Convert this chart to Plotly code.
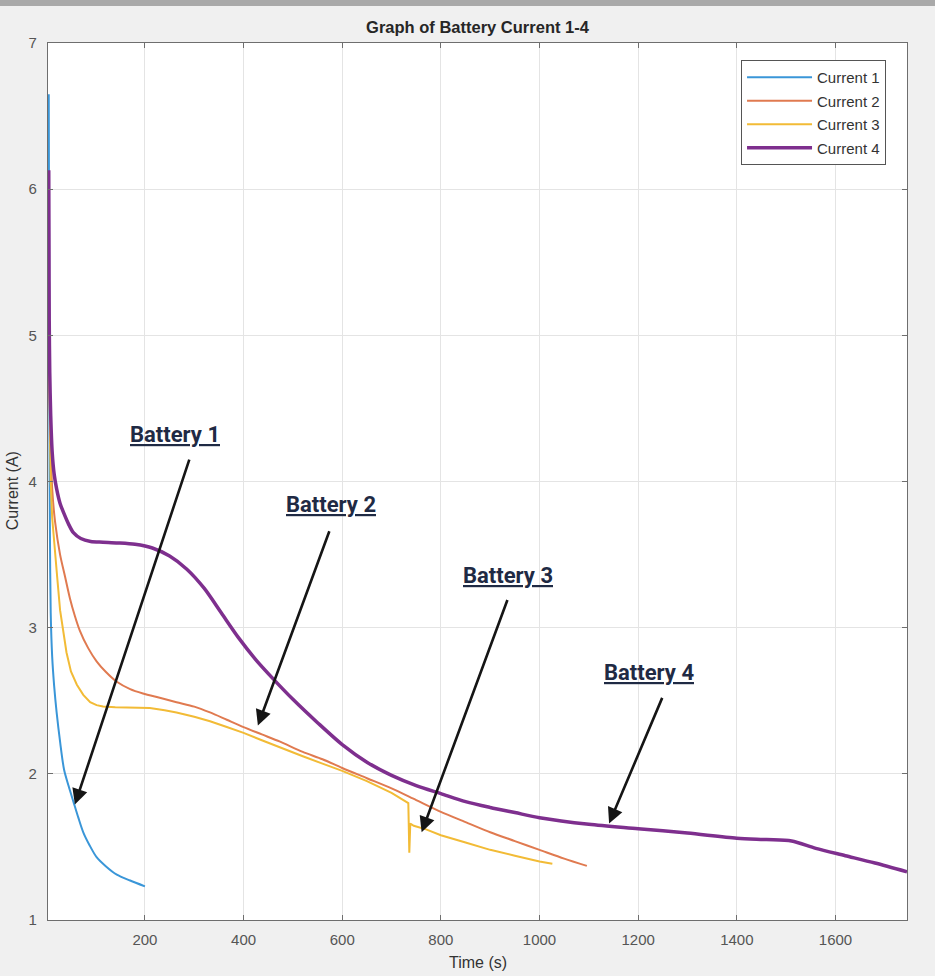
import plotly.graph_objects as go

# ---------------- data ----------------
t1 = [5, 5.5, 6, 6.5, 7.5, 9, 12, 16, 21, 28, 36, 45, 55, 65, 75, 88, 102, 120, 143, 170, 200]
i1 = [6.65, 5.9, 5.0, 4.3, 3.6, 3.1, 2.8, 2.6, 2.42, 2.22, 2.03, 1.92, 1.81, 1.70, 1.60, 1.51, 1.43, 1.37, 1.31, 1.27, 1.23]

t2 = [5, 7, 9, 12, 18, 28, 38, 48, 58, 68, 85, 102, 120, 143, 170, 196, 230, 264, 300, 332,
      366, 400, 437, 474, 520, 560, 600, 650, 700, 750, 800, 850, 900, 950, 1000, 1050, 1096]
i2 = [5.1, 4.6, 4.25, 3.95, 3.72, 3.5, 3.35, 3.2, 3.08, 2.98, 2.86, 2.77, 2.70, 2.63, 2.58, 2.55, 2.52, 2.49, 2.46, 2.42,
      2.37, 2.32, 2.27, 2.22, 2.15, 2.10, 2.04, 1.97, 1.90, 1.82, 1.74, 1.67, 1.60, 1.54, 1.48, 1.42, 1.37]

t3 = [5, 6, 7, 9, 12, 17.6, 22, 28, 34, 41, 50, 62, 75, 89, 102, 115, 140, 170, 210, 240, 264, 300, 332,
      366, 400, 437, 474, 520, 560, 600, 650, 700, 734, 736, 738, 745, 770, 800, 850, 900, 950, 1000, 1026]
i3 = [5.0, 4.6, 4.3, 4.0, 3.75, 3.55, 3.35, 3.12, 2.97, 2.83, 2.70, 2.61, 2.54, 2.49, 2.47, 2.46, 2.455, 2.455, 2.45, 2.435, 2.42, 2.39, 2.36,
      2.32, 2.28, 2.23, 2.18, 2.12, 2.07, 2.02, 1.95, 1.87, 1.80, 1.46, 1.66, 1.645, 1.62, 1.58, 1.53, 1.48, 1.44, 1.40, 1.385]

t4 = [5, 5.5, 6, 7, 9, 12, 16, 21, 28, 36, 45, 55, 70, 90, 115, 145, 180, 215, 250, 285, 320, 355, 390,
      425, 460, 500, 550, 600, 650, 700, 750, 800, 850, 900, 950, 1000, 1100, 1200, 1300, 1400, 1460, 1511,
      1560, 1620, 1680, 1745]
i4 = [6.13, 5.6, 5.1, 4.75, 4.45, 4.2, 4.05, 3.95, 3.85, 3.78, 3.71, 3.65, 3.61, 3.59, 3.585, 3.58, 3.57, 3.545, 3.49, 3.40, 3.27, 3.10, 2.93,
      2.78, 2.65, 2.51, 2.35, 2.20, 2.08, 1.99, 1.92, 1.865, 1.81, 1.77, 1.735, 1.70, 1.655, 1.625, 1.595, 1.56, 1.55, 1.54,
      1.49, 1.44, 1.39, 1.33]

series_names = ["Current 1", "Current 2", "Current 3", "Current 4"]
x_ticks = [200, 400, 600, 800, 1000, 1200, 1400, 1600]
y_ticks = [1, 2, 3, 4, 5, 6, 7]

labels = ["Battery 1", "Battery 2", "Battery 3", "Battery 4"]
label_pos = [(261, 4.32), (577, 3.84), (936, 3.36), (1222, 2.69)]
arrow_tail = [(291, 4.16), (575, 3.67), (936, 3.20), (1250, 2.53)]
arrow_tip = [(58, 1.79), (429, 2.33), (761, 1.60), (1141, 1.66)]

# ---------------- figure ----------------
colors = ["#3a96d8", "#e07a50", "#f2bb36", "#7e2f8e"]
widths = [2, 2, 2, 3.5]
shapes_ = ["spline", "spline", "linear", "spline"]
xs = [t1, t2, t3, t4]
ys = [i1, i2, i3, i4]

fig = go.Figure()
for k in range(4):
    fig.add_trace(go.Scatter(
        x=xs[k], y=ys[k], mode="lines", name=series_names[k],
        legendgroup=series_names[k],
        line=dict(color=colors[k], width=widths[k], shape=shapes_[k],
                  smoothing=0.8 if shapes_[k] == "spline" else None),
    ))

FONT = "Liberation Sans, Arial, Helvetica, sans-serif"
axis_common = dict(
    showline=True, linecolor="#6e6e6e", linewidth=1.3, mirror="ticks",
    ticks="inside", ticklen=5, tickcolor="#6e6e6e", tickwidth=1,
    showgrid=True, gridcolor="#e4e4e4", gridwidth=1, zeroline=False,
    tickfont=dict(family=FONT, size=15, color="#555555"),
)

fig.update_xaxes(range=[3.5, 1745], tickvals=x_ticks, ticklabelstandoff=6, **axis_common)
fig.update_yaxes(range=[1, 7], tickvals=y_ticks, ticklabelstandoff=7, **axis_common)

annotations = []
for k in range(4):
    annotations.append(dict(
        x=arrow_tip[k][0], y=arrow_tip[k][1], ax=arrow_tail[k][0], ay=arrow_tail[k][1],
        xref="x", yref="y", axref="x", ayref="y", text="", showarrow=True,
        arrowhead=2, arrowsize=1.2, arrowwidth=2.6, arrowcolor="#151515",
    ))
    annotations.append(dict(
        x=label_pos[k][0], y=label_pos[k][1], xref="x", yref="y", showarrow=False,
        text="<b>" + labels[k] + "</b>", xanchor="center", yanchor="middle",
        font=dict(family="Roboto, sans-serif", size=22, color="#1f2a44", lineposition="under"),
    ))

annotations.append(dict(
    text="Current (A)", x=-0.042, y=0.49, xref="paper", yref="paper", textangle=-90,
    showarrow=False, xanchor="center", yanchor="middle",
    font=dict(family=FONT, size=16, color="#333333"),
))
annotations.append(dict(
    text="Time (s)", x=0.5, y=-0.048, xref="paper", yref="paper",
    showarrow=False, xanchor="center", yanchor="middle",
    font=dict(family=FONT, size=16, color="#333333"),
))

fig.update_layout(
    width=935, height=976,
    margin=dict(l=48, r=28, t=43, b=56),
    paper_bgcolor="#f0f0f0", plot_bgcolor="white",
    title=dict(text="<b>Graph of Battery Current 1-4</b>", x=0.5, xref="paper",
               y=1 - 27 / 976, yref="container", xanchor="center", yanchor="middle",
               font=dict(family=FONT, size=16.5, color="#262626")),
    legend=dict(x=0.8068, y=0.9806, xanchor="left", yanchor="top",
                bgcolor="white", bordercolor="#555555", borderwidth=1,
                font=dict(family=FONT, size=15, color="#333333"),
                tracegroupgap=1, itemwidth=65),
    showlegend=True,
    annotations=annotations,
    shapes=[dict(type="rect", xref="paper", yref="paper", x0=-0.1, x1=1.1,
                 y0=1 + 37 / 877, y1=1.06, fillcolor="#a9a9a9", line=dict(width=0), layer="above")],
)

fig.write_html("out.html")
